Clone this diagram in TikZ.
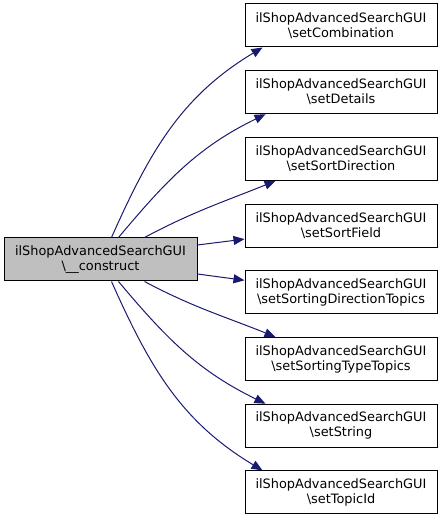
\documentclass[tikz,border=0pt]{standalone}
\usepackage{fontspec}
\setmainfont{DejaVu Sans}
\usetikzlibrary{arrows.meta}
\definecolor{edgeblue}{HTML}{191970}
\definecolor{nodegray}{HTML}{BFBFBF}
\tikzset{
  fbox/.style={draw=black, line width=1pt, minimum width=192pt, minimum height=43pt,
    inner sep=0pt, align=center, font=\fontsize{12.9}{15}\selectfont},
  mainbox/.style={fbox, fill=nodegray, minimum width=193pt},
  callbox/.style={fbox, fill=white},
  edge/.style={draw=edgeblue, line width=1pt, -{Triangle[length=11pt,width=9pt]}},
}
\begin{document}
\begin{tikzpicture}[x=1pt,y=1pt]
\useasboundingbox (0,0) rectangle (443,520);
\node[mainbox] (L) at (100.5,260.5) {ilShopAdvancedSearchGUI\\\textbackslash\_\_construct};
\node[callbox] (R1) at (341,494.5) {ilShopAdvancedSearchGUI\\\textbackslash setCombination};
\node[callbox] (R2) at (341,427.8) {ilShopAdvancedSearchGUI\\\textbackslash setDetails};
\node[callbox] (R3) at (341,361.1) {ilShopAdvancedSearchGUI\\\textbackslash setSortDirection};
\node[callbox] (R4) at (341,294.4) {ilShopAdvancedSearchGUI\\\textbackslash setSortField};
\node[callbox] (R5) at (341,227.7) {ilShopAdvancedSearchGUI\\\textbackslash setSortingDirectionTopics};
\node[callbox] (R6) at (341,161.0) {ilShopAdvancedSearchGUI\\\textbackslash setSortingTypeTopics};
\node[callbox] (R7) at (341,94.3) {ilShopAdvancedSearchGUI\\\textbackslash setString};
\node[callbox] (R8) at (341,27.6) {ilShopAdvancedSearchGUI\\\textbackslash setTopicId};
\draw[edge] ([xshift=108pt]L.north west) to[out=66,in=211] ([xshift=18pt]R1.south west);
\draw[edge] ([xshift=115pt]L.north west) to[out=50,in=206] ([xshift=21pt]R2.south west);
\draw[edge] ([xshift=141pt]L.north west) to[out=28,in=202] ([xshift=31pt]R3.south west);
\draw[edge] ([yshift=14.5pt]L.east) -- ([yshift=-13.5pt]R4.west);
\draw[edge] ([yshift=-14.5pt]L.east) -- ([yshift=12pt]R5.west);
\draw[edge] ([xshift=141pt]L.south west) to[out=-28,in=158] ([xshift=31pt]R6.north west);
\draw[edge] ([xshift=115pt]L.south west) to[out=-50,in=154] ([xshift=21pt]R7.north west);
\draw[edge] ([xshift=108pt]L.south west) to[out=-66,in=149] ([xshift=18pt]R8.north west);
\end{tikzpicture}
\end{document}
